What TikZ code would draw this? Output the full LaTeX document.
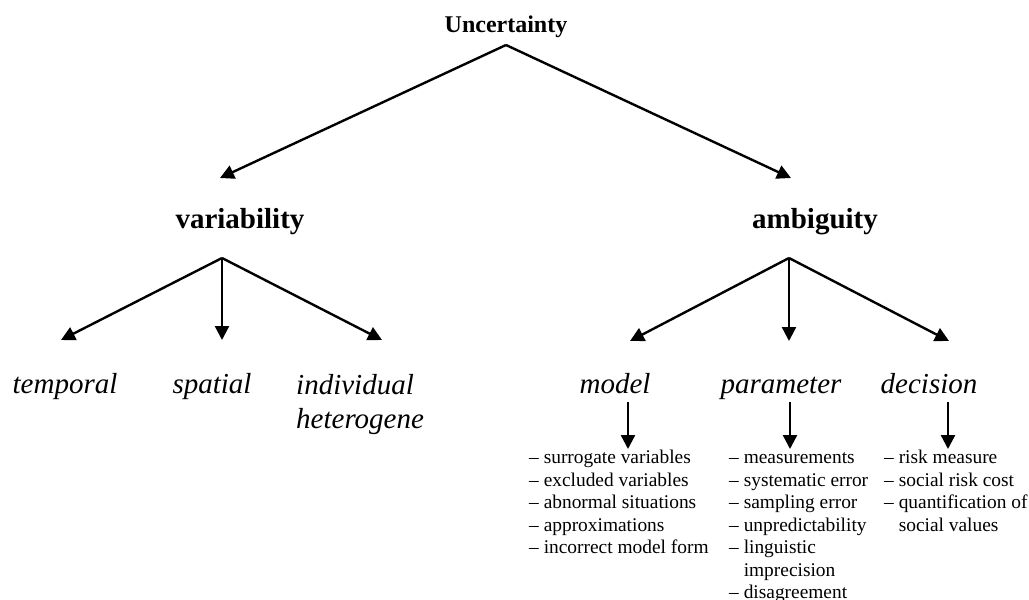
\documentclass[tikz,border=0pt]{standalone}
\usepackage{fontspec}
\setmainfont{Liberation Serif}
\usetikzlibrary{arrows.meta}
\begin{document}
\begin{tikzpicture}[x=1pt,y=-1pt,
  link/.style={line width=2.4pt,-{Triangle[length=14pt,width=14pt]}},
  top/.style={font=\fontsize{24}{28}\selectfont\bfseries,inner sep=0pt,anchor=base},
  cat/.style={font=\fontsize{29}{34}\selectfont\bfseries,inner sep=0pt,anchor=base},
  kind/.style={font=\fontsize{29}{34}\selectfont\itshape,inner sep=0pt,anchor=base},
  items/.style={font=\fontsize{19.4}{22.5}\selectfont,inner sep=0pt,anchor=north west,align=left}]
\useasboundingbox (0,0) rectangle (1029,600);

% headings
\node[top] (unc) at (506,32) {Uncertainty};
\node[cat] (var) at (240,228) {variability};
\node[cat] (amb) at (815,228) {ambiguity};

% second level
\node[kind] (temp) at (65,393) {temporal};
\node[kind] (spat) at (212,393) {spatial};
\node[kind,anchor=north west,align=left] (indiv) at (296,374) {individual\\heterogene};
\node[kind] (model) at (615,393) {model};
\node[kind] (param) at (781,393) {parameter};
\node[kind] (dec) at (929,393) {decision};

% item lists
\node[items] (lmodel) at (529,448) {\strut– surrogate variables\\– excluded variables\\– abnormal situations\\– approximations\\– incorrect model form};
\node[items] (lparam) at (729,448) {\strut– measurements\\– systematic error\\– sampling error\\– unpredictability\\– linguistic\\\phantom{– }imprecision\\– disagreement};
\node[items] (ldec) at (884,448) {\strut– risk measure\\– social risk cost\\– quantification of\\\phantom{– }social values};

% branch points and arrow targets
\coordinate (unc-out) at (506,45);
\coordinate (var-out) at (222,258);
\coordinate (amb-out) at (789,258);
\coordinate (var-in) at (220,178);
\coordinate (amb-in) at (791,178);
\coordinate (temp-in) at (61,340);
\coordinate (spat-in) at (222,340);
\coordinate (indiv-in) at (382,340);
\coordinate (model-in) at (630,341);
\coordinate (param-in) at (789,341);
\coordinate (dec-in) at (949,341);
\coordinate (model-out) at (628,402);
\coordinate (param-out) at (790,402);
\coordinate (dec-out) at (948,402);
\coordinate (lmodel-in) at (628,449);
\coordinate (lparam-in) at (790,449);
\coordinate (ldec-in) at (948,449);

\draw[link] (unc-out) -- (var-in);
\draw[link] (unc-out) -- (amb-in);
\draw[link] (var-out) -- (temp-in);
\draw[link] (var-out) -- (spat-in);
\draw[link] (var-out) -- (indiv-in);
\draw[link] (amb-out) -- (model-in);
\draw[link] (amb-out) -- (param-in);
\draw[link] (amb-out) -- (dec-in);
\draw[link] (model-out) -- (lmodel-in);
\draw[link] (param-out) -- (lparam-in);
\draw[link] (dec-out) -- (ldec-in);
\end{tikzpicture}
\end{document}
